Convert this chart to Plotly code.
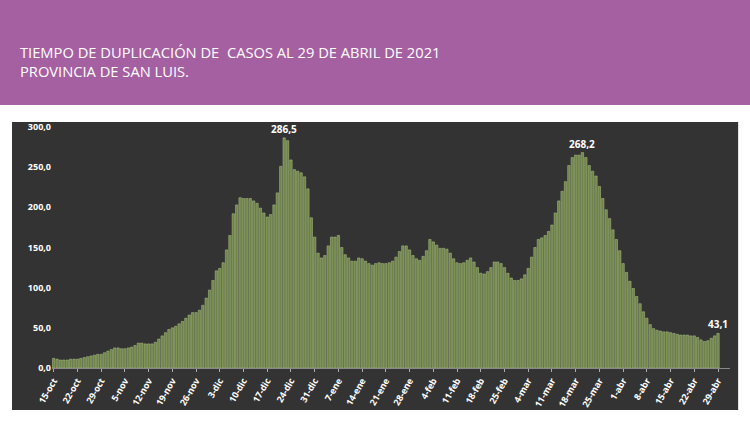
import plotly.graph_objects as go
import datetime as dt

values = [
12,11,10,10,10,11,11,
11,12,13,14,15,16,17,
17,19,21,23,25,25,24,
24,25,26,28,31,31,30,
30,30,32,36,40,44,48,
50,52,55,58,62,66,69,
69,72,78,87,97,109,121,
124,131,147,165,192,203,212,
211,211,211,208,205,199,193,
188,191,203,218,251,286.5,283,
259,247,245,243,238,223,187,
163,143,137,140,152,163,163,
165,150,141,137,133,133,137,
136,133,130,128,130,131,130,
130,131,133,138,145,152,152,
147,140,136,134,139,146,160,
157,153,149,149,148,143,136,
131,130,131,134,137,132,125,
118,117,120,125,132,132,130,
125,118,112,109,109,111,116,
124,138,150,160,162,165,170,
178,193,208,220,232,252,262,
265,265,268.2,262,252,245,239,
226,211,197,186,172,160,146,
130,119,108,99,89,80,70,
62,54,49,47,46,45,45,
44,43,42,41,41,41,40,
40,38,35,33,34,37,40,43.1]
months = ["ene","feb","mar","abr","may","jun","jul","ago","sep","oct","nov","dic"]
start = dt.date(2020,10,15)
dates = [start + dt.timedelta(days=i) for i in range(len(values))]
labels = [f"{d.day}-{months[d.month-1]}" for d in dates]
ticks = labels[::7]
annot = {"286,5": values.index(286.5), "268,2": values.index(268.2), "43,1": len(values)-1}

fig = go.Figure(go.Bar(x=labels, y=values, marker=dict(color="#6e8446", line=dict(color="#b5c98f", width=0.5)), width=0.7))
for t, i in annot.items():
    fig.add_annotation(x=labels[i], y=values[i], text="<b>"+t+"</b>", showarrow=False, yshift=9,
                       font=dict(color="white", size=10, family="Open Sans"))
fig.add_shape(type="rect", xref="paper", yref="paper", x0=-0.2, x1=1.2, y0=1.091, y1=2.0, fillcolor="#a560a2", line_width=0, layer="below")
fig.add_shape(type="rect", xref="paper", yref="paper", x0=-0.059, x1=1.012, y0=-0.174, y1=1.021, fillcolor="#333333", line_width=0, layer="below")
fig.update_layout(
    width=750, height=422, paper_bgcolor="white", plot_bgcolor="#353535",
    margin=dict(l=52, r=20, t=127, b=54), showlegend=False, bargap=0.25,
    xaxis=dict(type="category", tickvals=ticks, ticktext=["<b>"+t+"</b>" for t in ticks], tickangle=-60, tickfont=dict(color="white", size=9, family="Open Sans"), showgrid=False, ticks="outside", tickcolor="#aaa", ticklen=3, showline=True, linecolor="#888"),
    yaxis=dict(range=[0,300], tickvals=[0,50,100,150,200,250,300], ticktext=["<b>"+s+"</b>" for s in ["0,0","50,0","100,0","150,0","200,0","250,0","300,0"]], tickfont=dict(color="white", size=9, family="Open Sans"), showgrid=False, zeroline=False),
)
fig.add_annotation(xref="paper", yref="paper", x=-0.05, y=1.36, xanchor="left", yanchor="top", align="left", showarrow=False,
                   text="TIEMPO DE DUPLICACIÓN DE  CASOS AL 29 DE ABRIL DE 2021<br>PROVINCIA DE SAN LUIS.", font=dict(color="white", size=14.7, family="Open Sans"))
fig.write_html("out.html", post_script="document.body.style.margin='0';", config={"displayModeBar": False})
